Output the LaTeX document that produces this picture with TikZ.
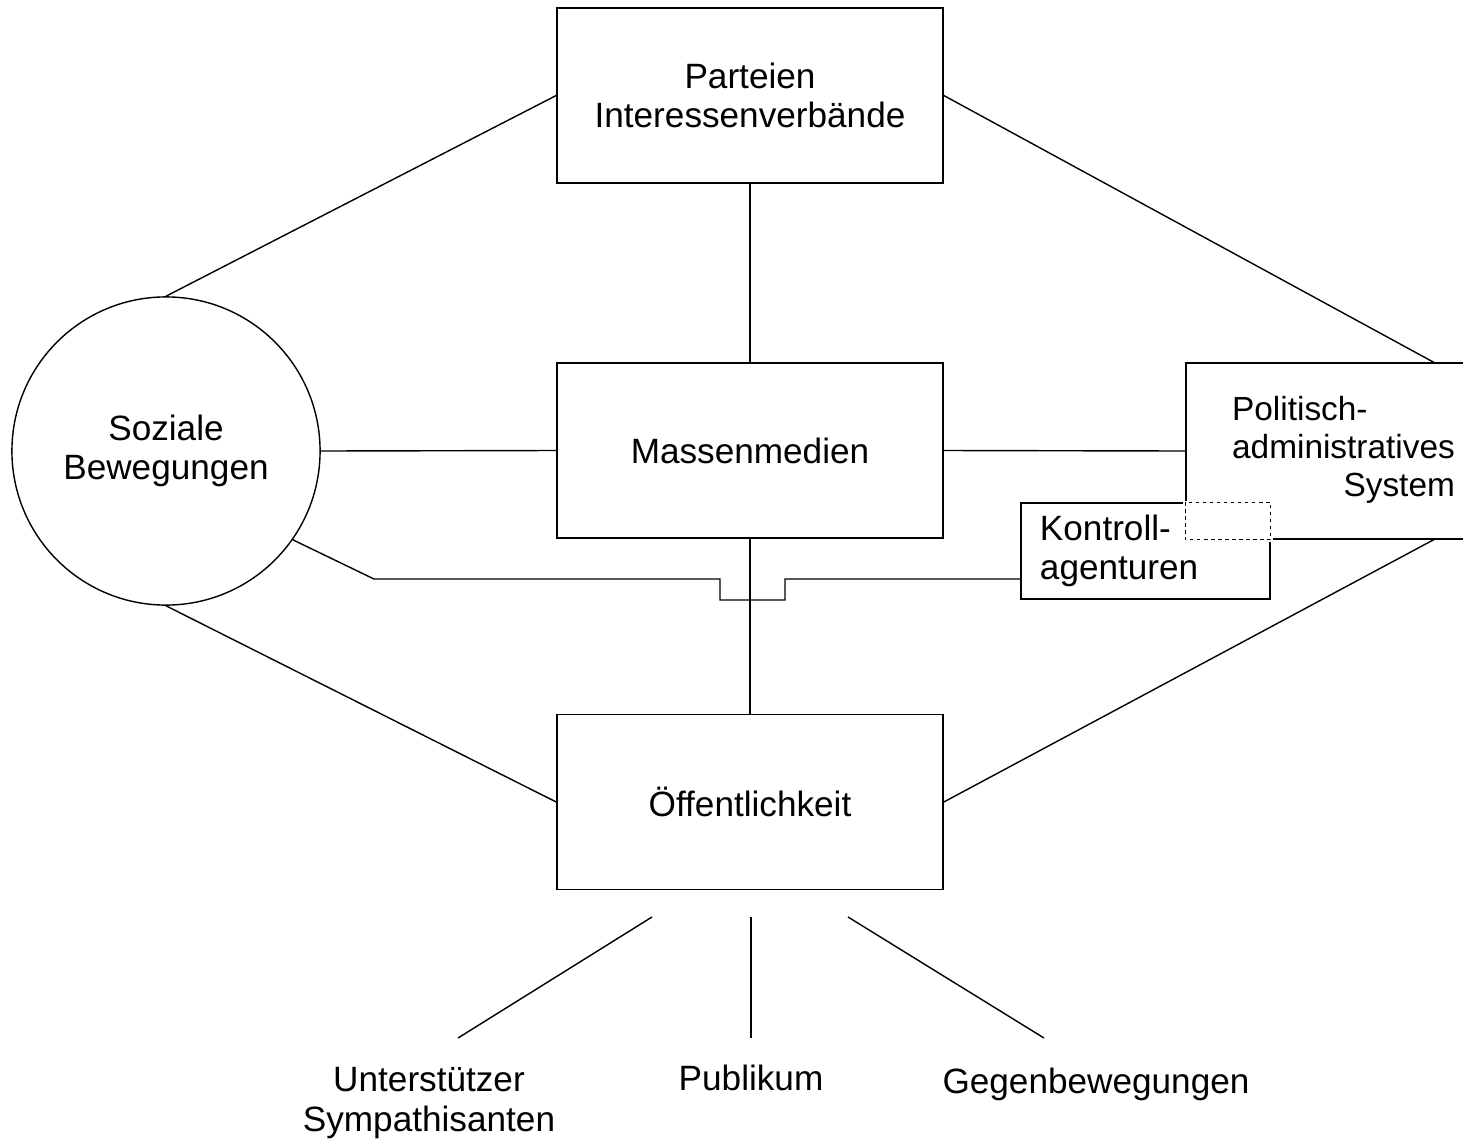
\documentclass[tikz,border=0pt]{standalone}
\usepackage{fontspec}
\setmainfont{Liberation Sans}

\begin{document}
\begin{tikzpicture}[x=0.01cm,y=-0.01cm,
    every node/.style={font=\fontsize{10}{11.3}\selectfont},
    bigbox/.style={draw,minimum width=3.86cm,minimum height=1.75cm,align=center}]
    \useasboundingbox (0,0) rectangle (1463,1142);
    % middle column
    \node[bigbox] (par) at (750,95.5) {Parteien\\Interessenverbände};
    \node[bigbox] (mm) at (750,450.5) {Massenmedien};
    \node[bigbox] (oef) at (750,802) {Öffentlichkeit};
    % left and right
    \node[draw,circle,minimum size=3.08cm,inner sep=0pt,align=center] (sb) at (166,451) {Soziale\\Bewegungen};
    \node[draw,minimum width=3.15cm,minimum height=1.76cm,font=\fontsize{9.5}{10.8}\selectfont] (pol) at (1343.5,451)
        {\begin{tabular}{@{}l@{}}Politisch-\\administratives\\\hfill System\end{tabular}};
    \node[draw,fill=white,minimum width=2.49cm,minimum height=0.96cm,text width=2.11cm,align=left] (kon) at (1145.5,551) {Kontroll-\\agenturen};
    % overlap of the two boxes
    \coordinate (ovl) at (pol.west |- kon.north);
    \coordinate (ovr) at (kon.east |- pol.south);
    \fill[white] ([shift={(-0.5pt,0.5pt)}]ovl) rectangle ([shift={(0.5pt,-0.5pt)}]ovr);
    \draw[dash pattern=on 1pt off 1pt] (ovl) rectangle (ovr);

    % connectors
    \coordinate (poltop) at (1435,363);
    \coordinate (polbot) at (1435,539);
    \coordinate (kin) at (1021,579);
    \draw (par.west) -- (sb.north);
    \draw (par.east) -- (poltop);
    \draw (par.south) -- (mm.north);
    \draw (sb.east) -- (mm.west);
    \draw (mm.east) -- (pol.west);
    \draw (mm.south) -- (oef.north);
    \draw (sb.south) -- (oef.west);
    \draw (oef.east) -- (polbot);
    \draw (sb.-35) -- (374,579) -- (720,579) -- (720,600) -- (785,600) -- (785,579) -- (kin);

    % bottom labels
    \coordinate (u0) at (652,917);
    \coordinate (u1) at (458,1038);
    \coordinate (p0) at (751,917);
    \coordinate (p1) at (751,1038);
    \coordinate (g0) at (848,917);
    \coordinate (g1) at (1044,1038);
    \draw (u0) -- (u1);
    \draw (p0) -- (p1);
    \draw (g0) -- (g1);
    \node[align=center] (unt) at (429,1103) {Unterstützer\\Sympathisanten};
    \node[anchor=base] (pub) at (751,1090) {Publikum};
    \node[anchor=base] (geg) at (1096,1093) {Gegenbewegungen};
\end{tikzpicture}
\end{document}
